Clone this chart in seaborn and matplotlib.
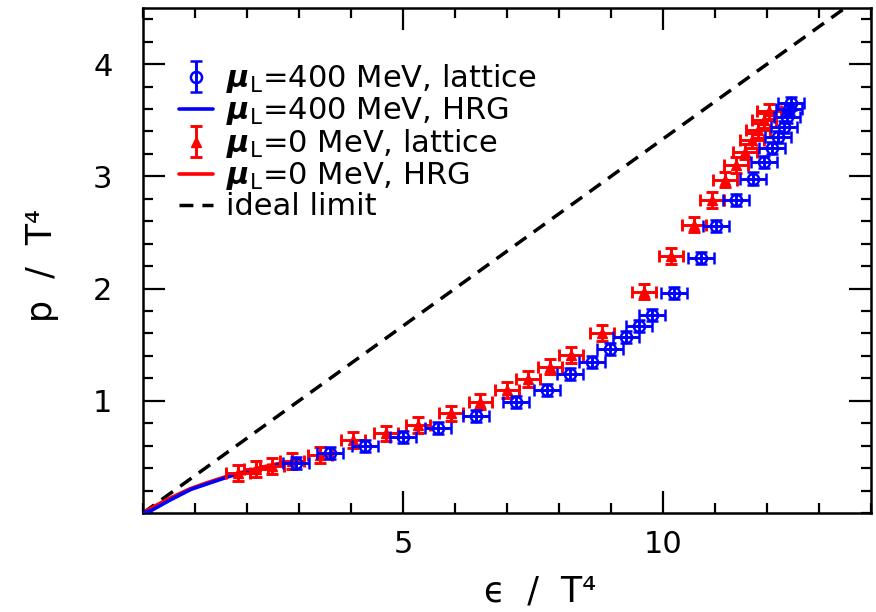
import numpy as np
import pandas as pd
import matplotlib
matplotlib.use("Agg")
import matplotlib.pyplot as plt
from matplotlib.ticker import MultipleLocator
import seaborn as sns

# Lattice data, mu_L = 0 MeV
eps_mu0 = [1.82, 2.17, 2.48, 2.86, 3.40, 4.04, 4.68, 5.28, 5.93, 6.49, 7.00, 7.41, 7.83,
           8.23, 8.83, 9.64, 10.15, 10.60, 10.95, 11.20, 11.40, 11.57, 11.71, 11.83, 11.94, 12.03]
p_mu0 = [0.357, 0.392, 0.419, 0.463, 0.517, 0.651, 0.710, 0.784, 0.889, 0.992, 1.096, 1.194, 1.304,
         1.408, 1.604, 1.972, 2.29, 2.57, 2.79, 2.97, 3.10, 3.22, 3.32, 3.41, 3.50, 3.58]
eps_err_mu0 = 0.23
p_err_mu0 = 0.068

# Lattice data, mu_L = 400 MeV
eps_mu400 = [2.94, 3.59, 4.26, 5.00, 5.67, 6.41, 7.17, 7.77, 8.21, 8.64, 8.98, 9.28, 9.54,
             9.79, 10.21, 10.74, 11.02, 11.40, 11.73, 11.95, 12.10, 12.22, 12.32, 12.38, 12.42, 12.46]
p_mu400 = [0.446, 0.532, 0.597, 0.680, 0.755, 0.865, 0.992, 1.096, 1.239, 1.348, 1.462, 1.569, 1.667,
           1.765, 1.961, 2.27, 2.56, 2.79, 2.98, 3.13, 3.25, 3.35, 3.44, 3.53, 3.60, 3.65]
eps_err_mu400 = 0.25
p_err_mu400 = 0.055

# Hadron resonance gas curves
hrg_eps_mu0 = [0.0, 0.2, 0.4, 0.6, 0.9, 1.2, 1.6, 2.0, 2.4, 2.7]
hrg_p_mu0 = [0.0, 0.055, 0.105, 0.15, 0.215, 0.265, 0.325, 0.375, 0.42, 0.45]
hrg_eps_mu400 = [0.0, 0.15, 0.54, 0.92, 1.30, 1.69, 2.07, 2.52, 2.77, 3.0]
hrg_p_mu400 = [0.0, 0.02, 0.12, 0.21, 0.27, 0.33, 0.37, 0.42, 0.45, 0.47]

# Ideal gas limit p = eps/3
ideal_eps = [0.0, 13.5]
ideal_p = [0.0, 4.5]

labels = [r"$\boldsymbol{\mu}_\mathrm{L}$=400 MeV, lattice",
          r"$\boldsymbol{\mu}_\mathrm{L}$=400 MeV, HRG",
          r"$\boldsymbol{\mu}_\mathrm{L}$=0 MeV, lattice",
          r"$\boldsymbol{\mu}_\mathrm{L}$=0 MeV, HRG",
          "ideal limit"]

sns.set_theme(style="ticks")
plt.rcParams["font.family"] = ["DejaVu Sans"]
plt.rcParams["mathtext.fontset"] = "dejavusans"
for key in ("text.color", "axes.labelcolor", "xtick.color", "ytick.color", "axes.edgecolor"):
    plt.rcParams[key] = "black"

fig = plt.figure(figsize=(8.76, 6.12), dpi=100)
ax = fig.add_axes([143 / 876, 1 - 513 / 612, 728 / 876, 505 / 612])

blue = "#0000ff"
red = "#ff0000"
dash = (0, (4, 2.6))

sns.lineplot(x=ideal_eps, y=ideal_p, ax=ax, color="black", lw=2.5,
             linestyle=dash, zorder=1)
sns.lineplot(x=hrg_eps_mu0, y=hrg_p_mu0, ax=ax, color=red, lw=2.6, sort=False, zorder=2)
sns.lineplot(x=hrg_eps_mu400, y=hrg_p_mu400, ax=ax, color=blue, lw=2.6, sort=False, zorder=3)

eb_style = dict(elinewidth=2.1, capsize=4, capthick=2.1)
ax.errorbar(eps_mu0, p_mu0, xerr=eps_err_mu0, yerr=p_err_mu0, fmt="^", color=red,
            ms=7.5, mec=red, mfc=red, zorder=4, **eb_style)
ax.errorbar(eps_mu400, p_mu400, xerr=eps_err_mu400, yerr=p_err_mu400, fmt="o", color=blue,
            ms=8, mec=blue, mfc="none", mew=1.8, zorder=5, **eb_style)

# legend handles: vertical error bars only
h_b = ax.errorbar([np.nan], [np.nan], yerr=[1], fmt="o", color=blue, ms=8, mfc="none",
                  mew=1.8, **eb_style)
h_r = ax.errorbar([np.nan], [np.nan], yerr=[1], fmt="^", color=red, ms=7.5, **eb_style)
l_b, = ax.plot([], [], color=blue, lw=2.6)
l_r, = ax.plot([], [], color=red, lw=2.6)
l_i, = ax.plot([], [], color="black", lw=2.5, linestyle=dash)

ax.legend([h_b, l_b, h_r, l_r, l_i], labels, loc="upper left",
          bbox_to_anchor=(0.02, 0.935), frameon=False, fontsize=22,
          handlelength=1.1, handletextpad=0.45, labelspacing=0.0, borderpad=0.2)

ax.set_xlim(0, 14)
ax.set_ylim(0, 4.5)
ax.set_xticks([5, 10])
ax.set_yticks([1, 2, 3, 4])
ax.xaxis.set_minor_locator(MultipleLocator(1))
ax.yaxis.set_minor_locator(MultipleLocator(0.2))
ax.tick_params(which="both", direction="in", top=True, right=True, width=1.6,
               colors="black", labelsize=22)
ax.tick_params(which="major", length=16)
ax.tick_params(which="minor", length=7.5)
ax.tick_params(axis="x", which="major", pad=12)
ax.tick_params(axis="y", which="major", pad=22)
for s in ax.spines.values():
    s.set_linewidth(1.8)
    s.set_color("black")

ax.set_xlabel("ϵ  /  T⁴", fontsize=25)
ax.set_ylabel("p  /  T⁴", fontsize=25)
ax.xaxis.set_label_coords(0.545, -0.122)
ax.yaxis.set_label_coords(-0.115, 0.49)

fig.savefig("out.png", dpi=100)
